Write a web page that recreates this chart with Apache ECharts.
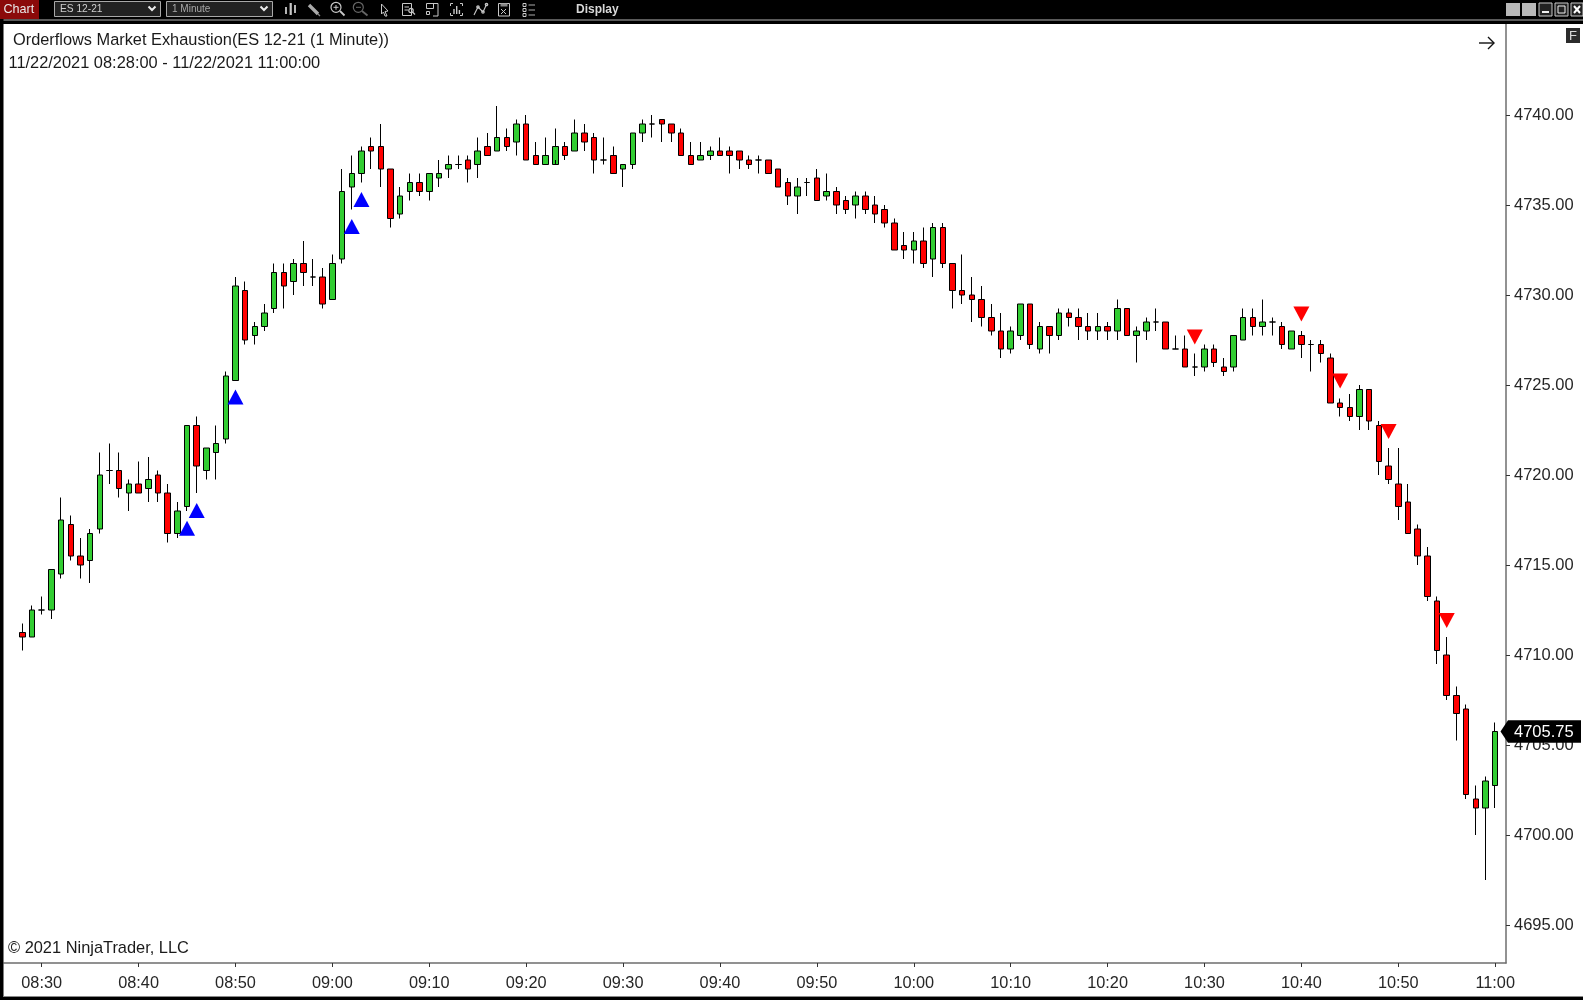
<!DOCTYPE html>
<html>
<head>
<meta charset="utf-8">
<style>html,body{margin:0;padding:0;background:#fff}#c{width:1583px;height:1000px}</style>
<script src="https://cdn.jsdelivr.net/npm/echarts@6/dist/echarts.min.js"></script>
</head>
<body>
<div id="c"></div>
<script>
const startMinute = 8 * 60 + 28;
const opens = [
4711.25,4711,4712.5,4712.5,4714.5,4717.25,4715.5,4715.25,4717,4720.25,4720.25,4719,4719.5,4719.25,4720,4719,4716.75,4718.25,4722.75,4720.25,
4721.25,4722,4725.25,4730.25,4727.75,4728.25,4729.25,4731.25,4730.75,4731.75,4731,4731,4729.75,4732,4736,4736.75,4738.25,4738.25,4737,4734.5,
4735.75,4736.25,4735.75,4736.5,4737,4737.25,4737.5,4737.25,4738.25,4738,4738.75,4738.5,4739.5,4737.75,4737.25,4737.25,4738.25,4738,4739,4738.75,
4737.5,4737.75,4737,4737.25,4739,4739.5,4739.75,4739.5,4739,4737.75,4737.5,4737.75,4738,4738,4738,4737.5,4737.5,4737.5,4737,4736.25,
4735.5,4736.25,4736.5,4735.5,4735.75,4735.25,4735,4735.5,4735,4734.75,4734,4732.75,4732.5,4733,4732,4733.75,4731.75,4730.25,4730,4729.75,
4728.75,4728,4727,4727.75,4729.5,4727,4728.25,4727.75,4729,4728.75,4728.25,4728,4728.25,4728,4729.25,4727.75,4728,4728.5,4728.5,4727,
4727,4726,4726,4727,4726,4726,4727.5,4728.75,4728.25,4728.5,4728.25,4727,4727.75,4727.25,4727.25,4726.5,4724,4723.75,4723.25,4724.75,
4722.75,4720.5,4719.5,4718.5,4717,4715.5,4713,4710,4707.75,4707,4702,4701.5,4702.75
];
const closes = [
4711,4712.5,4712.5,4714.75,4717.5,4715.5,4715,4716.75,4720,4720.25,4719.25,4719.5,4719,4719.75,4719,4716.75,4718,4722.75,4720.5,4721.5,
4721.75,4725.5,4730.5,4727.5,4728.25,4729,4731.25,4730.5,4731.75,4731.25,4731,4729.5,4731.75,4735.75,4736.75,4738,4738,4737,4734.25,4735.5,
4736.25,4735.75,4736.75,4736.75,4737.25,4737.25,4737,4738,4737.75,4738.75,4738.25,4739.5,4737.5,4737.25,4737.75,4738.25,4737.75,4739,4738.5,4737.5,
4737.5,4736.75,4737.25,4739,4739.5,4739.5,4739.5,4739,4737.75,4737.25,4737.75,4738,4737.75,4737.75,4737.5,4737.25,4737.5,4736.75,4736,4735.5,
4736,4736.25,4735.25,4735.75,4735,4734.75,4735.5,4734.75,4734.5,4734,4732.5,4732.5,4733,4731.75,4733.75,4731.75,4730.25,4730,4729.75,4728.75,
4728,4727,4728,4729.5,4727.25,4728.25,4727.75,4729,4728.75,4728.25,4728,4728.25,4728,4729.25,4727.75,4728,4728.5,4728.5,4727,4727,
4726,4726,4727,4726.25,4725.75,4727.75,4728.75,4728.25,4728.5,4728.5,4727.25,4728,4727.25,4727.25,4726.75,4724,4723.75,4723.25,4724.75,4723,
4720.75,4719.75,4718.25,4716.75,4715.5,4713.25,4710.25,4707.75,4706.75,4702.25,4701.5,4703,4705.75
];
const highs = [
4711.75,4712.75,4713.25,4714.75,4718.75,4717.75,4716.5,4717,4721.25,4721.75,4721.25,4719.75,4720.75,4721,4720.25,4719.5,4718.5,4722.75,4723.25,4721.5,
4722.75,4725.75,4731,4730.75,4728.5,4729.5,4731.75,4731.75,4732,4733,4732,4731.5,4732.25,4737,4737.75,4738.25,4738.75,4739.5,4737,4736,
4736.75,4736.75,4736.75,4737.5,4737.75,4737.75,4737.75,4738.75,4739,4740.5,4739.25,4739.75,4740,4738.5,4738.75,4739.25,4738.5,4739.75,4739.5,4739,
4738.75,4738.25,4737.25,4739,4739.75,4740,4739.75,4739.5,4739.25,4738.5,4738.5,4738.25,4738.75,4738.25,4738,4737.75,4737.75,4737.5,4737,4736.5,
4736.5,4736.5,4737,4736.75,4736,4735.5,4735.75,4735.75,4735.5,4735,4734.25,4733.5,4733.5,4733.75,4734,4734,4731.75,4732.25,4731,4730.5,
4729.5,4729,4728.25,4729.5,4729.5,4728.5,4728.25,4729.25,4729.25,4729.25,4729,4729,4728.5,4729.75,4729.25,4728.25,4728.75,4729.25,4728.5,4727.75,
4727.75,4726.75,4727.25,4727.25,4726.5,4727.75,4729.25,4729.25,4729.75,4728.75,4728.5,4728,4728,4727.5,4727.5,4726.75,4724.25,4724.5,4725,4724.75,
4723,4721.5,4721.5,4719.5,4717.25,4716,4713.25,4711,4708.25,4707.25,4702.75,4703.25,4706.25
];
const lows = [
4710.25,4711,4712.25,4712,4714.25,4715.25,4714.25,4714,4716.75,4719.5,4718.75,4718,4719,4718.5,4718.5,4716.25,4716.5,4718,4719,4719.75,
4719.75,4721.75,4725.25,4727.25,4727.25,4728,4729,4729.25,4730,4730.5,4730.5,4729.25,4729.75,4731.75,4734.75,4736.25,4737,4736,4733.75,4734.25,
4735.25,4735.5,4735.25,4736,4736.5,4737,4736.25,4736.5,4737.75,4738,4738,4737.75,4737.5,4737.25,4737.25,4737.5,4737.5,4738,4738,4736.75,
4737.25,4736.75,4736,4737,4738.5,4738.75,4738.5,4738.5,4737.75,4737.25,4737.5,4737.5,4737.75,4736.75,4737,4737,4736.75,4736.75,4736,4735,
4734.5,4735.5,4735.25,4735.25,4734.5,4734.5,4734.25,4734.5,4734,4733.75,4732.5,4732,4731.75,4731.5,4731,4731.5,4729.25,4729.5,4728.5,4728.25,
4727.75,4726.5,4726.75,4727.5,4727,4726.75,4726.75,4727.5,4728.25,4727.5,4727.5,4727.5,4727.5,4727.5,4727.75,4726.25,4727.5,4728,4727,4727,
4726,4725.5,4725.75,4726,4725.5,4725.75,4727.5,4727.75,4727.75,4727.75,4727,4727,4726.5,4725.75,4726.25,4724,4723.25,4723,4722.5,4722.5,
4720,4719.5,4717.5,4716.75,4715,4713,4709.5,4707.5,4705.25,4702,4700,4697.5,4701.5
];
const upMarkerMinutes = [8*60+45, 8*60+46, 8*60+50, 9*60+2, 9*60+3];
const upMarkerPrices = [4717.04, 4718.03, 4724.33, 4733.8, 4735.3];
const downMarkerMinutes = [10*60+29, 10*60+40, 10*60+44, 10*60+49, 10*60+55];
const downMarkerPrices = [4727.67, 4728.94, 4725.22, 4722.42, 4711.92];
const priceTicks = [4695,4700,4705,4710,4715,4720,4725,4730,4735,4740];
const timeTicks = [510,520,530,540,550,560,570,580,590,600,610,620,630,640,650,660];
const titleText = 'Orderflows Market Exhaustion(ES 12-21 (1 Minute))';
const rangeText = '11/22/2021 08:28:00 - 11/22/2021 11:00:00';
const copyText = '\u00A9 2021 NinjaTrader, LLC';

const FONT = '"Liberation Sans", Arial, sans-serif';
const pad = n => String(n).padStart(2, '0');
const hhmm = m => pad(Math.floor(m / 60)) + ':' + pad(m % 60);
const candles = opens.map((o, i) => [startMinute + i, o, closes[i], lows[i], highs[i]]);

const chart = echarts.init(document.getElementById('c'), null, {renderer: 'canvas'});

const gL = 4, gR = 1506, gT = 24, gB = 963;
const pxPerMin = 9.69, pxPerPt = 18;
const xMin = startMinute - (22.3 - gL) / pxPerMin;
const xMax = startMinute + (gR - 22.3) / pxPerMin;
const yMax = 4740 + (115 - gT) / pxPerPt;
const yMin = 4740 - (gB - 115) / pxPerPt;
const AXIS = '#6e6e6e', TXT = '#262626';

function txt(x, y, text, size, color, extra) {
  return {type: 'text', silent: true, z: 60, x, y, style: Object.assign({text, fontFamily: FONT, fontSize: size, fill: color, verticalAlign: 'middle', align: 'left'}, extra || {})};
}
function rect(x, y, w, h, fill, stroke, lw) {
  return {type: 'rect', silent: true, z: 50, shape: {x, y, width: w, height: h}, style: {fill: fill || 'none', stroke: stroke || 'none', lineWidth: lw || 1}};
}
function line(points, color, lw) {
  return {type: 'polyline', silent: true, z: 55, shape: {points}, style: {stroke: color, lineWidth: lw || 1, fill: 'none'}};
}
function ring(cx, cy, r, color) {
  return {type: 'circle', silent: true, z: 55, shape: {cx, cy, r}, style: {stroke: color, fill: 'none', lineWidth: 1.2}};
}

chart.setOption({
  animation: false,
  backgroundColor: '#ffffff',
  grid: {left: gL, top: gT, width: gR - gL, height: gB - gT, containLabel: false},
  xAxis: {
    type: 'value', min: xMin, max: xMax, scale: true,
    splitLine: {show: false},
    axisLine: {show: true, onZero: false, lineStyle: {color: AXIS, width: 1.5}},
    axisTick: {show: true, length: 4, customValues: timeTicks, lineStyle: {color: '#333', width: 1}},
    axisLabel: {show: true, customValues: timeTicks, formatter: v => hhmm(Math.round(v)), fontFamily: FONT, fontSize: 16.3, color: TXT, margin: 13, hideOverlap: false, showMinLabel: true, showMaxLabel: true}
  },
  yAxis: {
    type: 'value', position: 'right', min: yMin, max: yMax, scale: true,
    splitLine: {show: false},
    axisLine: {show: true, onZero: false, lineStyle: {color: AXIS, width: 1.5}},
    axisTick: {show: true, length: 4, customValues: priceTicks, lineStyle: {color: '#333', width: 1}},
    axisLabel: {show: true, customValues: priceTicks, formatter: v => v.toFixed(2), fontFamily: FONT, fontSize: 16.5, color: TXT, margin: 8, padding: [6, 0, 0, 0]}
  },
  series: [
    {
      type: 'candlestick', data: candles, barWidth: 6,
      encode: {x: 0, y: [1, 2, 3, 4]},
      itemStyle: {color: '#32CD32', color0: '#FF0000', borderColor: '#000', borderColor0: '#000', borderColorDoji: '#000', borderWidth: 1}
    },
    {
      type: 'scatter', symbol: 'triangle', symbolSize: [16, 15],
      data: upMarkerMinutes.map((m, i) => [m, upMarkerPrices[i]]),
      itemStyle: {color: '#0000FF', opacity: 1}, z: 5, silent: true
    },
    {
      type: 'scatter', symbol: 'triangle', symbolSize: [16, 15], symbolRotate: 180,
      data: downMarkerMinutes.map((m, i) => [m, downMarkerPrices[i]]),
      itemStyle: {color: '#FF0000', opacity: 1}, z: 5, silent: true
    }
  ]
});

const lastY = chart.convertToPixel({yAxisIndex: 0}, closes[closes.length - 1]);
const IC = '#c8c8c8';
const toolbar = [
  rect(0, 0, 1583, 19, '#000'),
  rect(0, 19, 1583, 2, '#5a5a5a'),
  rect(0, 21, 1583, 3, '#000'),
  rect(0, 0, 3.5, 1000, '#000'),
  rect(0, 997, 1583, 3, '#000'),
  rect(3.5, 996, 1580, 1, '#8a8a8a'),
  rect(0, 0, 39, 19, '#8b0a0a'),
  txt(3.5, 9.5, 'Chart', 12.6, '#e8e8e8'),
  rect(54.5, 1.5, 106, 15, '#222', '#a8a8a8'),
  txt(60, 9, 'ES 12-21', 10.2, '#cfcfcf'),
  line([[148.5, 6.5], [152, 10], [155.5, 6.5]], '#ececec', 2),
  rect(166.5, 1.5, 106, 15, '#222', '#a8a8a8'),
  txt(172, 9, '1 Minute', 10, '#a8a8a8'),
  line([[260.5, 6.5], [264, 10], [267.5, 6.5]], '#ececec', 2),
  txt(576, 9.5, 'Display', 12, '#d8d8d8', {fontWeight: 'bold'}),
  // toolbar icons
  line([[286, 7], [286, 14]], IC, 1.8), line([[290.7, 3], [290.7, 15]], IC, 2.2), line([[295, 5], [295, 13]], IC, 1.8),
  line([[309, 5], [318, 14]], '#aaa', 3.4), line([[318, 14], [320, 16]], '#888', 1.2),
  ring(336, 7.3, 5, IC), line([[340, 11], [344.5, 15.5]], IC, 1.8), line([[333.5, 7.3], [338.5, 7.3]], IC), line([[336, 5], [336, 9.8]], IC),
  ring(358.3, 7.3, 5, '#666'), line([[362, 11], [367.5, 15.5]], '#666', 1.8), line([[356, 7.3], [361, 7.3]], '#666'),
  {type: 'polygon', silent: true, z: 55, shape: {points: [[381.5, 4], [388, 11], [385, 11.5], [387, 16], [385, 16], [383.5, 12], [381.5, 14]]}, style: {fill: 'none', stroke: IC, lineWidth: 1}},
  rect(402.5, 3.5, 9, 12, null, IC), line([[404.5, 7], [409, 7]], IC), line([[404.5, 10], [408, 10]], IC), ring(411, 10.5, 2.2, IC), line([[412.5, 12], [415, 14.5]], IC, 1.2),
  rect(426.5, 3.5, 7, 5, null, IC), rect(426.5, 11.5, 3, 3, null, IC), line([[433, 3.5], [438, 3.5], [438, 16], [433, 16]], IC),
  line([[453, 3.5], [450.5, 3.5], [450.5, 6]], IC), line([[460, 3.5], [462.5, 3.5], [462.5, 6]], IC), line([[450.5, 13], [450.5, 15.5], [453, 15.5]], IC), line([[462.5, 13], [462.5, 15.5], [460, 15.5]], IC),
  line([[454, 14], [454, 9]], IC, 1.4), line([[456.7, 14], [456.7, 6]], IC, 1.4), line([[459.4, 14], [459.4, 10]], IC, 1.4),
  line([[474, 15], [478, 7], [483, 12], [486.5, 4.5]], IC, 1.1), ring(478, 7, 1.2, IC), ring(483, 12, 1.2, IC), ring(486.5, 4.5, 1.2, IC),
  rect(498.5, 3.5, 11, 12.5, null, IC), rect(500.5, 3.5, 7, 3, '#888'), line([[501, 9], [506, 14]], IC), line([[506, 9], [501, 14]], IC),
  rect(523, 3.5, 3, 3, null, IC), rect(523, 8.5, 3, 3, null, IC), rect(523, 13.5, 3, 3, null, IC),
  line([[528.5, 5], [535, 5]], '#aaa'), line([[528.5, 10], [535, 10]], '#aaa'), line([[528.5, 15], [535, 15]], '#aaa'),
  // window buttons
  rect(1506, 3, 14, 13, '#b8b8b8'), rect(1522, 3, 14, 13, '#b8b8b8'),
  rect(1539, 3, 13, 13, '#222', '#c8c8c8'), line([[1542, 12], [1549, 12]], '#eee', 2),
  rect(1555, 3, 13, 13, '#222', '#c8c8c8'), rect(1558, 6, 7, 7, null, '#eee'),
  rect(1571, 3, 12, 13, '#222', '#c8c8c8'), line([[1574, 6], [1580, 13]], '#fff', 2), line([[1580, 6], [1574, 13]], '#fff', 2),
  // F box and arrow
  rect(1566, 28, 14, 15, '#2b2b2b'), txt(1569, 36, 'F', 13, '#d8d8d8'),
  line([[1479, 43], [1494, 43]], '#111', 1.4), line([[1488, 37], [1494, 43], [1488, 49]], '#111', 1.4),
  // texts
  txt(13, 40.5, titleText, 16.35, '#1a1a1a'),
  txt(8.5, 63, rangeText, 16.4, '#1a1a1a'),
  txt(8, 948, copyText, 16.4, '#1a1a1a'),
  // last price tag
  {type: 'polygon', silent: true, z: 58, shape: {points: [[1500.5, lastY], [1508, lastY - 11.2], [1581, lastY - 11.2], [1581, lastY + 11.2], [1508, lastY + 11.2]]}, style: {fill: '#000'}},
  txt(1514, lastY + 0.8, closes[closes.length - 1].toFixed(2), 16.5, '#ffffff')
];
chart.setOption({graphic: {elements: toolbar}});
</script>
</body>
</html>
